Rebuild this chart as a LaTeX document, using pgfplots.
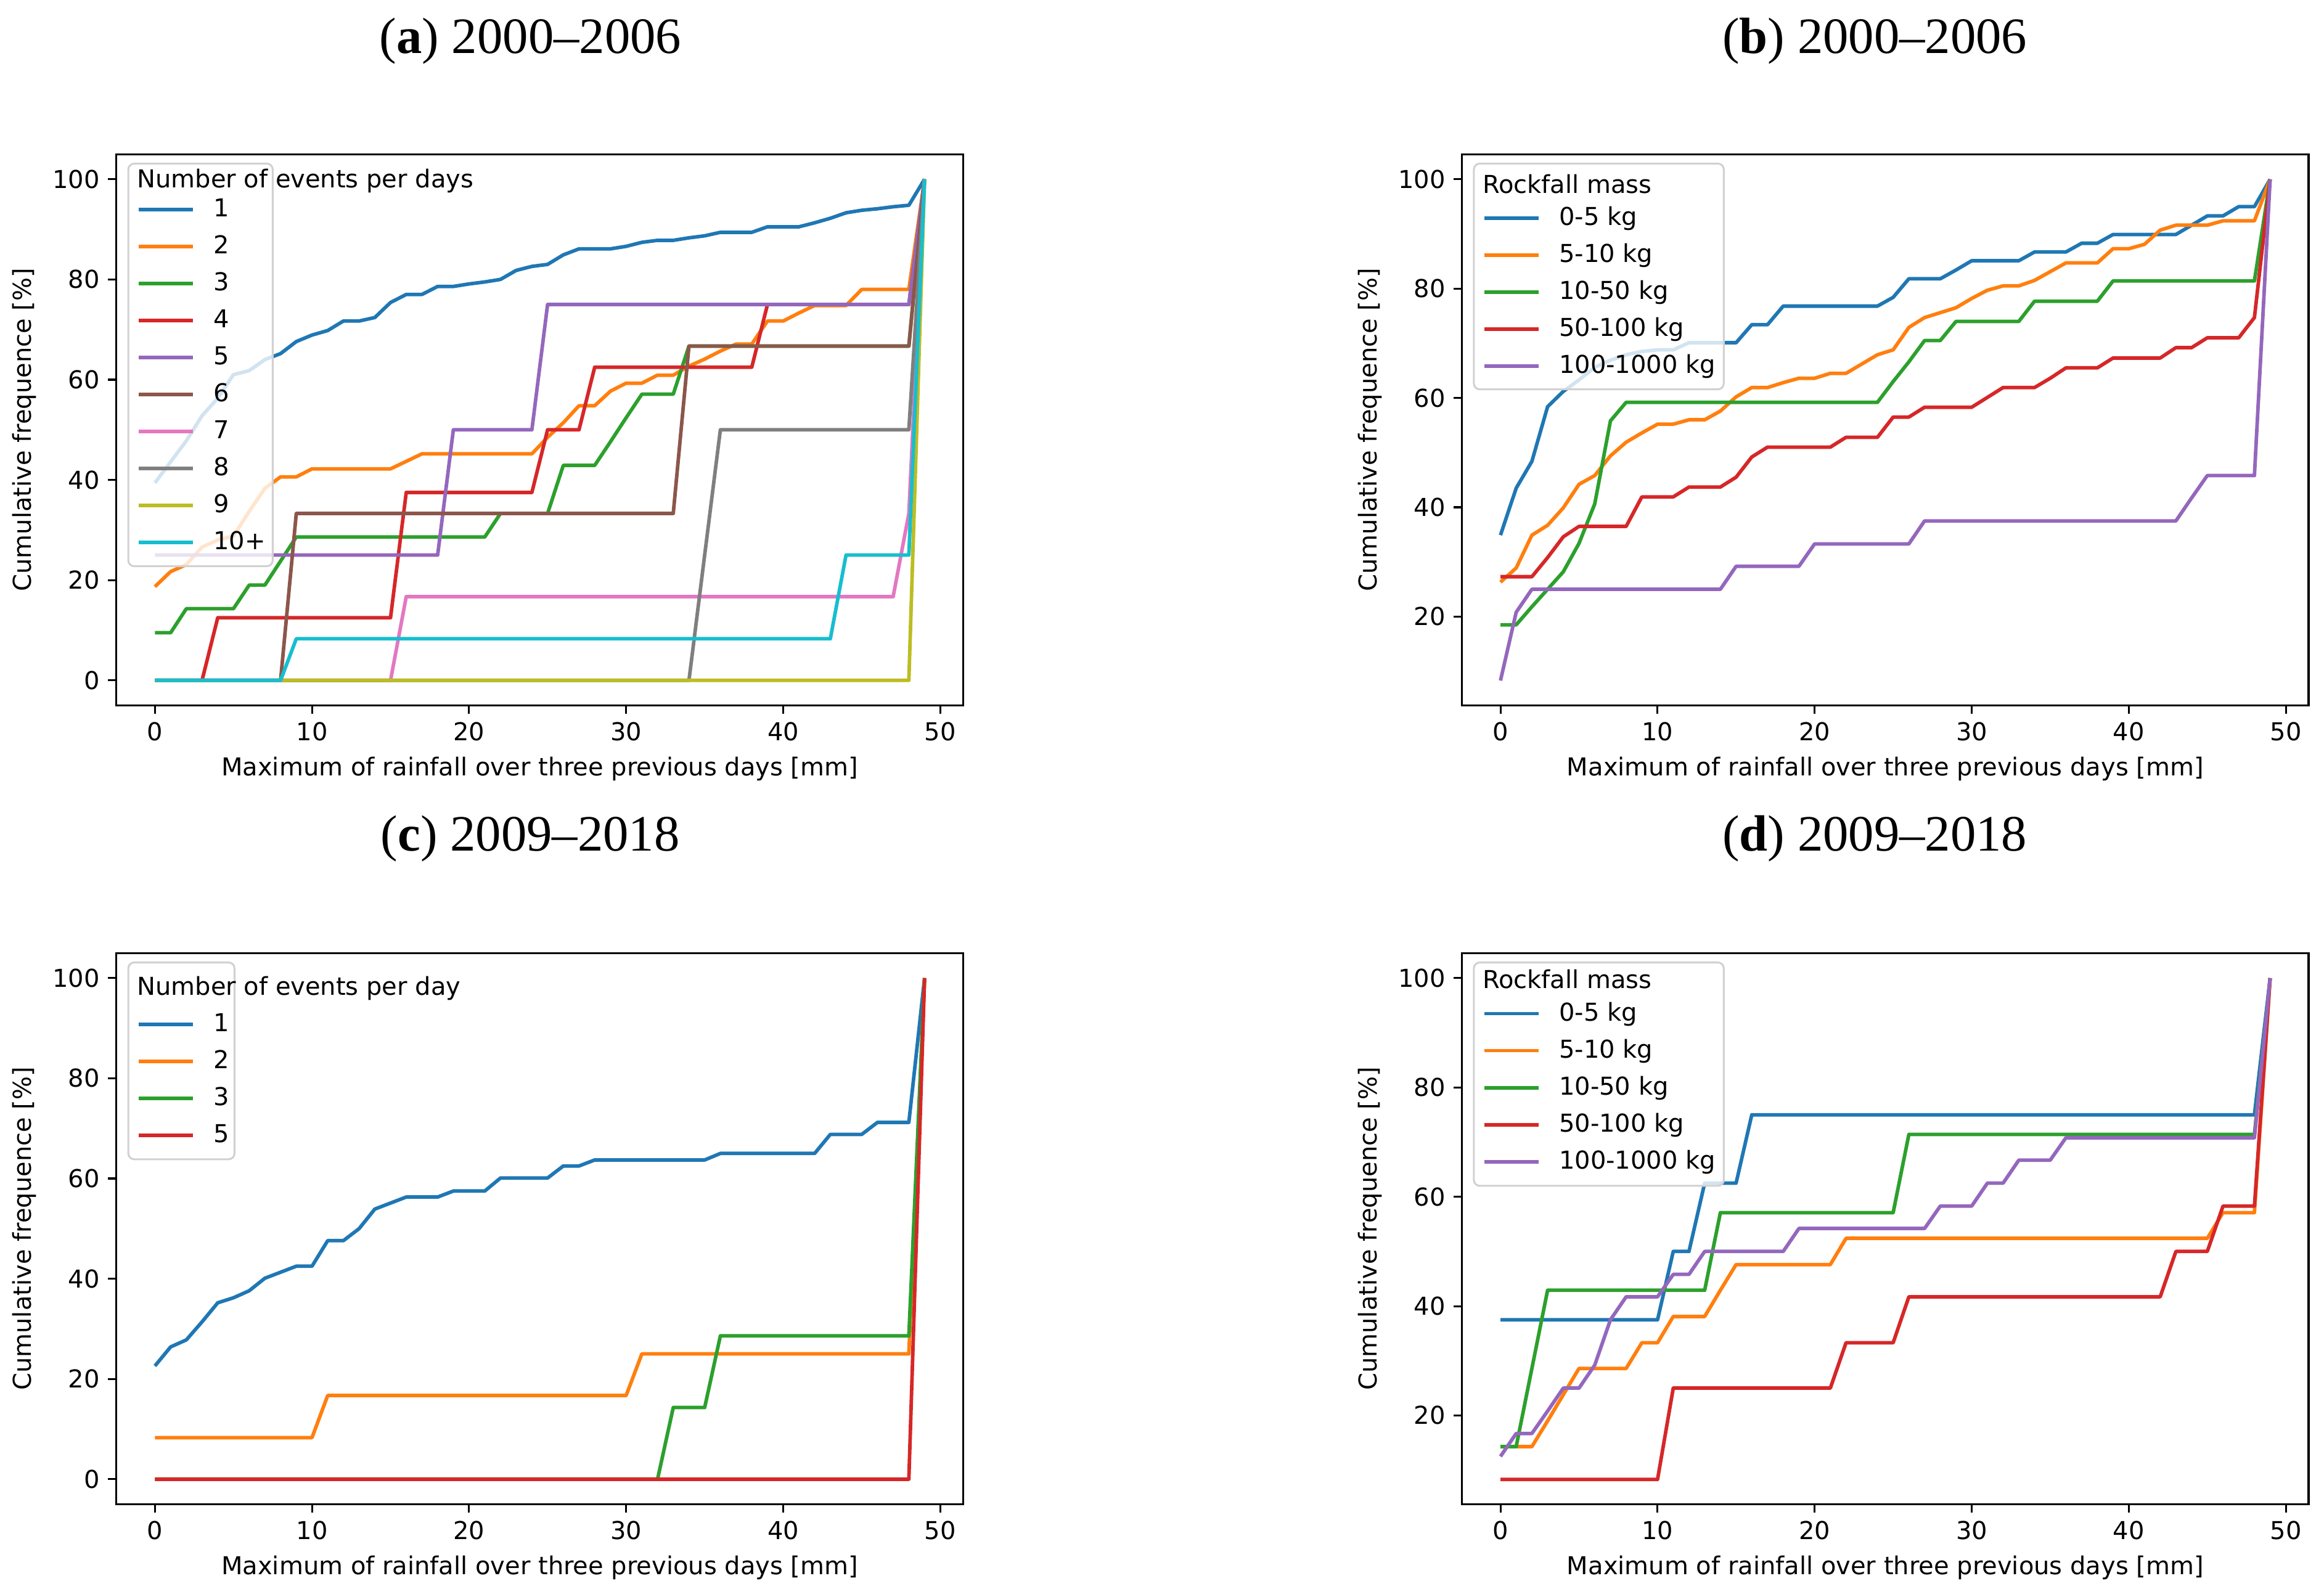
\documentclass[border=0pt]{standalone}
\usepackage{fontspec}
\setmainfont{DejaVu Sans}
\newfontfamily\ttlfont{Liberation Serif}
\usepackage{pgfplots}
\pgfplotsset{compat=1.18}

\definecolor{c0}{HTML}{1F77B4}
\definecolor{c1}{HTML}{FF7F0E}
\definecolor{c2}{HTML}{2CA02C}
\definecolor{c3}{HTML}{D62728}
\definecolor{c4}{HTML}{9467BD}
\definecolor{c5}{HTML}{8C564B}
\definecolor{c6}{HTML}{E377C2}
\definecolor{c7}{HTML}{7F7F7F}
\definecolor{c8}{HTML}{BCBD22}
\definecolor{c9}{HTML}{17BECF}

\newcommand\fs{\fontsize{10.4}{12.5}\selectfont}

\tikzset{
  legbox/.style={draw=black!18, line width=0.8pt, fill=white, fill opacity=0.8, rounded corners=2.5pt},
  legtitle/.style={anchor=west, inner sep=0pt, text height=8pt, text depth=2pt, font=\fs},
  ttl/.style={anchor=base, font=\ttlfont\fontsize{21.5}{24}\selectfont},
}

% legend frame and title, drawn over the curves
% #1 right edge, #2 bottom edge, #3 title offset, #4 title
\newcommand\legframe[4]{%
  \coordinate (nw) at (rel axis cs:0,1);
  \draw[legbox] ([xshift=5pt,yshift=-4pt]nw) rectangle ([xshift=#1,yshift=#2]nw);
  \node[legtitle] at ([xshift=8.5pt,yshift=#3]nw) {#4};
}

\pgfplotsset{
  mpl/.style={
    scale only axis, width=357pt, height=232.5pt,
    anchor=north west,
    xmin=-2.45, xmax=51.45,
    xtick={0,10,...,50},
    tick align=outside, xtick pos=bottom, ytick pos=left,
    major tick length=3.5pt,
    tick style={black, line width=0.8pt},
    axis line style={line width=0.8pt},
    tick label style={font=\fs},
    label style={font=\fs},
    /pgf/number format/assume math mode=true,
    xlabel={Maximum of rainfall over three previous days [mm]},
    ylabel={Cumulative frequence [\%]},
    no markers,
    every axis plot/.append style={line width=1.5pt, line join=round},
    legend cell align=left,
    legend style={at={(0,1)}, anchor=north west, xshift=8.5pt, yshift=#1,
      draw=none, fill=none, inner sep=0pt, row sep=5.6pt, column sep=8pt,
      nodes={inner sep=0pt, text height=8pt, text depth=2pt, font=\fs}},
    legend image code/.code={\draw[##1] (0pt,0pt) -- (22.75pt,0pt);},
  },
}

\begin{document}
\begin{tikzpicture}
\useasboundingbox (0,0) rectangle (980pt,-670pt);

\node[ttl] at (223.7pt,-22.5pt) {(\textbf{a}) 2000\textendash2006};
\node[ttl] at (790.6pt,-22.5pt) {(\textbf{b}) 2000\textendash2006};
\node[ttl] at (223.6pt,-358.8pt) {(\textbf{c}) 2009\textendash2018};
\node[ttl] at (790.6pt,-358.8pt) {(\textbf{d}) 2009\textendash2018};

% (a)
\begin{axis}[mpl=-18.2pt, at={(49.1pt,-65pt)}, ymin=-5, ymax=105, ytick={0,20,...,100}]
\addplot[c0] coordinates {(0,39.4)(1,43.6)(2,47.8)(3,52.8)(4,56.3)(5,61.0)(6,61.8)(7,64.0)(8,65.2)(9,67.6)(10,68.9)(11,69.8)(12,71.7)(13,71.7)(14,72.4)(15,75.4)(16,77.0)(17,77.0)(18,78.6)(19,78.6)(20,79.1)(21,79.5)(22,80.0)(23,81.8)(24,82.6)(25,83.0)(26,84.9)(27,86.1)(28,86.1)(29,86.1)(30,86.6)(31,87.4)(32,87.8)(33,87.8)(34,88.3)(35,88.7)(36,89.4)(37,89.4)(38,89.4)(39,90.5)(40,90.5)(41,90.5)(42,91.3)(43,92.2)(44,93.3)(45,93.8)(46,94.1)(47,94.5)(48,94.8)(49,100)};
\addlegendentry{1}
\addplot[c1] coordinates {(0,18.7)(1,21.7)(2,23.1)(3,26.6)(4,28.0)(5,28.8)(6,33.7)(7,38.3)(8,40.6)(9,40.6)(10,42.2)(15,42.2)(16,43.7)(17,45.2)(24,45.2)(25,48.5)(26,51.4)(27,54.8)(28,54.8)(29,57.7)(30,59.3)(31,59.3)(32,60.9)(33,60.9)(34,62.7)(35,64.1)(36,65.7)(37,67.1)(38,67.1)(39,71.7)(40,71.7)(41,73.3)(42,74.8)(44,74.8)(45,78.0)(48,78.0)(49,100)};
\addlegendentry{2}
\addplot[c2] coordinates {(0,9.5)(1,9.5)(2,14.3)(5,14.3)(6,19.0)(7,19.0)(8,23.8)(9,28.6)(21,28.6)(22,33.3)(25,33.3)(26,42.9)(28,42.9)(29,47.6)(30,52.4)(31,57.1)(33,57.1)(34,66.7)(48,66.7)(49,100)};
\addlegendentry{3}
\addplot[c3] coordinates {(0,0)(3,0)(4,12.5)(15,12.5)(16,37.5)(24,37.5)(25,50)(27,50)(28,62.5)(38,62.5)(39,75)(48,75)(49,100)};
\addlegendentry{4}
\addplot[c4] coordinates {(0,25)(18,25)(19,50)(24,50)(25,75)(48,75)(49,100)};
\addlegendentry{5}
\addplot[c5] coordinates {(0,0)(8,0)(9,33.3)(33,33.3)(34,66.7)(48,66.7)(49,100)};
\addlegendentry{6}
\addplot[c6] coordinates {(0,0)(15,0)(16,16.7)(47,16.7)(48,33.3)(49,100)};
\addlegendentry{7}
\addplot[c7] coordinates {(0,0)(34,0)(36,50)(48,50)(49,100)};
\addlegendentry{8}
\addplot[c8] coordinates {(0,0)(48,0)(49,100)};
\addlegendentry{9}
\addplot[c9] coordinates {(0,0)(8,0)(9,8.3)(43,8.3)(44,25)(48,25)(49,100)};
\addlegendentry{10+}
\legframe{65.9pt}{-173.8pt}{-11.2pt}{Number of events per days}
\end{axis}

% (b)
\begin{axis}[mpl=-21.9pt, at={(616.5pt,-65pt)}, ymin=3.75, ymax=104.6, ytick={20,40,...,100}]
\addplot[c0] coordinates {(0,34.9)(1,43.5)(2,48.4)(3,58.4)(4,61.2)(5,63.3)(6,65.6)(7,66.9)(8,67.9)(9,68.5)(10,68.8)(11,68.8)(12,70.1)(15,70.1)(16,73.4)(17,73.4)(18,76.8)(24,76.8)(25,78.4)(26,81.8)(28,81.8)(29,83.4)(30,85.1)(33,85.1)(34,86.7)(36,86.7)(37,88.3)(38,88.3)(39,89.9)(43,89.9)(44,91.6)(45,93.3)(46,93.3)(47,95.0)(48,95.0)(49,100)};
\addlegendentry{0-5 kg}
\addplot[c1] coordinates {(0,26.3)(1,28.9)(2,34.9)(3,36.7)(4,39.9)(5,44.2)(6,45.8)(7,49.4)(8,51.9)(9,53.6)(10,55.2)(11,55.2)(12,56.0)(13,56.0)(14,57.6)(15,60.2)(16,61.9)(17,61.9)(18,62.8)(19,63.6)(20,63.6)(21,64.5)(22,64.5)(23,66.2)(24,67.9)(25,68.8)(26,72.9)(27,74.7)(28,75.6)(29,76.5)(30,78.2)(31,79.7)(32,80.5)(33,80.5)(34,81.5)(35,83.1)(36,84.7)(38,84.7)(39,87.3)(40,87.3)(41,88.1)(42,90.7)(43,91.6)(45,91.6)(46,92.4)(48,92.4)(49,100)};
\addlegendentry{5-10 kg}
\addplot[c2] coordinates {(0,18.5)(1,18.5)(2,21.8)(3,25.0)(4,28.2)(5,33.4)(6,40.6)(7,55.8)(8,59.2)(24,59.2)(25,63.0)(26,66.6)(27,70.5)(28,70.5)(29,74.0)(33,74.0)(34,77.7)(38,77.7)(39,81.4)(48,81.4)(49,100)};
\addlegendentry{10-50 kg}
\addplot[c3] coordinates {(0,27.3)(2,27.3)(3,30.8)(4,34.6)(5,36.5)(8,36.5)(9,41.9)(11,41.9)(12,43.7)(14,43.7)(15,45.5)(16,49.2)(17,51.0)(21,51.0)(22,52.8)(24,52.8)(25,56.5)(26,56.5)(27,58.3)(30,58.3)(31,60.1)(32,61.9)(34,61.9)(35,63.6)(36,65.5)(38,65.5)(39,67.3)(42,67.3)(43,69.2)(44,69.2)(45,71.0)(47,71.0)(48,74.7)(49,100)};
\addlegendentry{50-100 kg}
\addplot[c4] coordinates {(0,8.3)(1,20.8)(2,25)(14,25)(15,29.2)(19,29.2)(20,33.3)(26,33.3)(27,37.5)(43,37.5)(44,41.7)(45,45.8)(48,45.8)(49,100)};
\addlegendentry{100-1000 kg}
\legframe{110.4pt}{-99.2pt}{-13.4pt}{Rockfall mass}
\end{axis}

% (c)
\begin{axis}[mpl=-24.9pt, at={(49.1pt,-401.9pt)}, ymin=-5, ymax=105, ytick={0,20,...,100}]
\addplot[c0] coordinates {(0,22.6)(1,26.4)(2,27.8)(3,31.4)(4,35.2)(5,36.2)(6,37.6)(7,40.1)(8,41.3)(9,42.5)(10,42.5)(11,47.6)(12,47.6)(13,50.0)(14,53.9)(15,55.1)(16,56.3)(18,56.3)(19,57.5)(21,57.5)(22,60.1)(25,60.1)(26,62.5)(27,62.5)(28,63.7)(35,63.7)(36,65.0)(42,65.0)(43,68.8)(45,68.8)(46,71.2)(48,71.2)(49,100)};
\addlegendentry{1}
\addplot[c1] coordinates {(0,8.3)(10,8.3)(11,16.7)(30,16.7)(31,25)(48,25)(49,100)};
\addlegendentry{2}
\addplot[c2] coordinates {(0,0)(32,0)(33,14.3)(35,14.3)(36,28.6)(48,28.6)(49,100)};
\addlegendentry{3}
\addplot[c3] coordinates {(0,0)(48,0)(49,100)};
\addlegendentry{5}
\legframe{49.8pt}{-87pt}{-14.9pt}{Number of events per day}
\end{axis}

% (d)
\begin{axis}[mpl=-20.4pt, at={(616.5pt,-401.9pt)}, ymin=3.75, ymax=104.6, ytick={20,40,...,100}]
\addplot[c0] coordinates {(0,37.5)(10,37.5)(11,50)(12,50)(13,62.5)(15,62.5)(16,75)(48,75)(49,100)};
\addlegendentry{0-5 kg}
\addplot[c1] coordinates {(0,14.3)(2,14.3)(3,19.0)(4,23.8)(5,28.6)(8,28.6)(9,33.3)(10,33.3)(11,38.1)(13,38.1)(14,42.9)(15,47.6)(21,47.6)(22,52.4)(45,52.4)(46,57.1)(48,57.1)(49,100)};
\addlegendentry{5-10 kg}
\addplot[c2] coordinates {(0,14.3)(1,14.3)(2,28.6)(3,42.9)(13,42.9)(14,57.1)(25,57.1)(26,71.4)(48,71.4)(49,100)};
\addlegendentry{10-50 kg}
\addplot[c3] coordinates {(0,8.3)(10,8.3)(11,25)(21,25)(22,33.3)(25,33.3)(26,41.7)(42,41.7)(43,50)(45,50)(46,58.3)(48,58.3)(49,100)};
\addlegendentry{50-100 kg}
\addplot[c4] coordinates {(0,12.5)(1,16.7)(2,16.7)(3,20.8)(4,25)(5,25)(6,29.2)(7,37.5)(8,41.7)(10,41.7)(11,45.8)(12,45.8)(13,50)(18,50)(19,54.2)(27,54.2)(28,58.3)(30,58.3)(31,62.5)(32,62.5)(33,66.7)(35,66.7)(36,70.8)(48,70.8)(49,100)};
\addlegendentry{100-1000 kg}
\legframe{110.4pt}{-98.2pt}{-11.9pt}{Rockfall mass}
\end{axis}
\end{tikzpicture}
\end{document}
